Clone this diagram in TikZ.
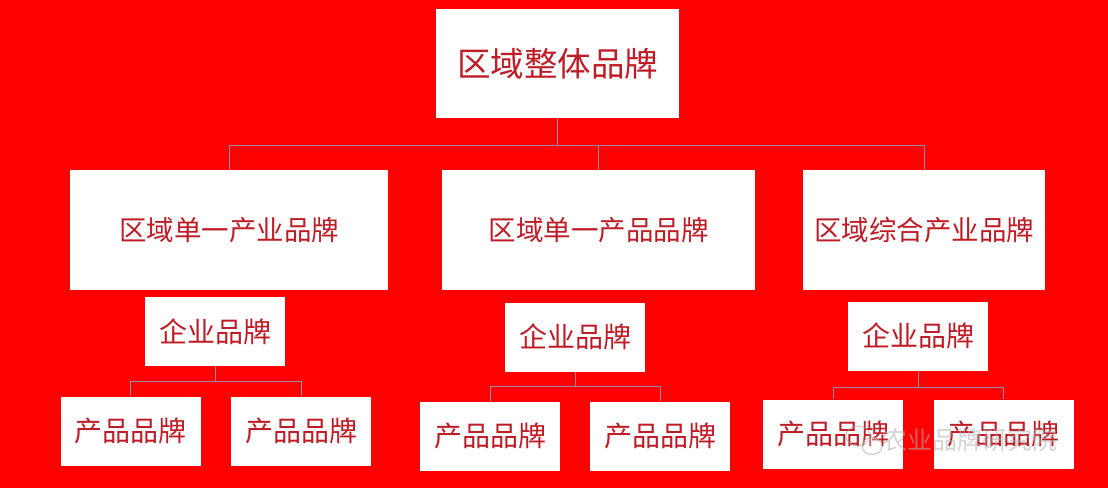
\documentclass[tikz,border=0pt]{standalone}
\usepackage{fontspec}
\setmainfont{Noto Sans CJK SC}
\begin{document}
\begin{tikzpicture}[x=1pt,y=-1pt,
  box/.style={draw=none,fill=white,rectangle,inner sep=0pt,text=txtred},
  conn/.style={draw=linegray,line width=0.8pt}]
\definecolor{bgred}{RGB}{255,0,0}
\definecolor{txtred}{RGB}{190,28,38}
\definecolor{linegray}{RGB}{150,140,170}
\useasboundingbox (0,0) rectangle (1108,493);
\fill[white] (0,0) rectangle (1108,493);
\fill[bgred] (0,0) rectangle (1108,488);
% level 1
\node[box,minimum width=243pt,minimum height=109pt,font=\fontsize{33.5}{36}\selectfont] (top) at (557.5,63.5) {区域整体品牌};
% level 2
\tikzset{mid/.style={box,minimum height=120pt,font=\fontsize{27.5}{30}\selectfont}}
\node[mid,minimum width=318pt] (l2a) at (229,230) {区域单一产业品牌};
\node[mid,minimum width=313pt] (l2b) at (598.5,230) {区域单一产品品牌};
\node[mid,minimum width=242pt] (l2c) at (924,230) {区域综合产业品牌};
% level 3
\tikzset{small/.style={box,minimum width=140pt,minimum height=69pt,font=\fontsize{28}{30}\selectfont}}
\node[small] (e1) at (215,331.5) {企业品牌};
\node[small] (e2) at (575,337) {企业品牌};
\node[small] (e3) at (918,336) {企业品牌};
% level 4
\node[small] (p1) at (130.5,431) {产品品牌};
\node[small] (p2) at (301,431) {产品品牌};
\node[small] (p3) at (490,436) {产品品牌};
\node[small] (p4) at (660,436) {产品品牌};
\node[small] (p5) at (833,434) {产品品牌};
\node[small] (p6) at (1003.5,434) {产品品牌};
% connectors
\coordinate (j0) at (557.5,145);
\draw[conn] (top.south) -- (j0);
\draw[conn] (l2a.north) -- (l2a.north |- j0) -- (l2c.north |- j0) -- (l2c.north);
\draw[conn] (l2b.north) -- (l2b.north |- j0);
\coordinate (j1) at (215,381);
\coordinate (j2) at (575,386);
\coordinate (j3) at (918,387);
\draw[conn] (e1.south) -- (j1);
\draw[conn] (p1.north) -- (p1.north |- j1) -- (p2.north |- j1) -- (p2.north);
\draw[conn] (e2.south) -- (j2);
\draw[conn] (p3.north) -- (p3.north |- j2) -- (p4.north |- j2) -- (p4.north);
\draw[conn] (e3.south) -- (j3);
\draw[conn] (p5.north) -- (p5.north |- j3) -- (p6.north |- j3) -- (p6.north);
% watermark
\begin{scope}[opacity=0.55]
\draw[gray!70,line width=1.2pt] (858,436) ellipse (12pt and 10pt);
\draw[gray!70,line width=1.2pt,fill=white,fill opacity=0.3] (872,446) ellipse (10pt and 8.5pt);
\node[text=gray!60,font=\fontsize{25}{28}\selectfont,anchor=west,inner sep=0pt] (wm) at (882,440) {农业品牌研究院};
\end{scope}
\end{tikzpicture}
\end{document}
